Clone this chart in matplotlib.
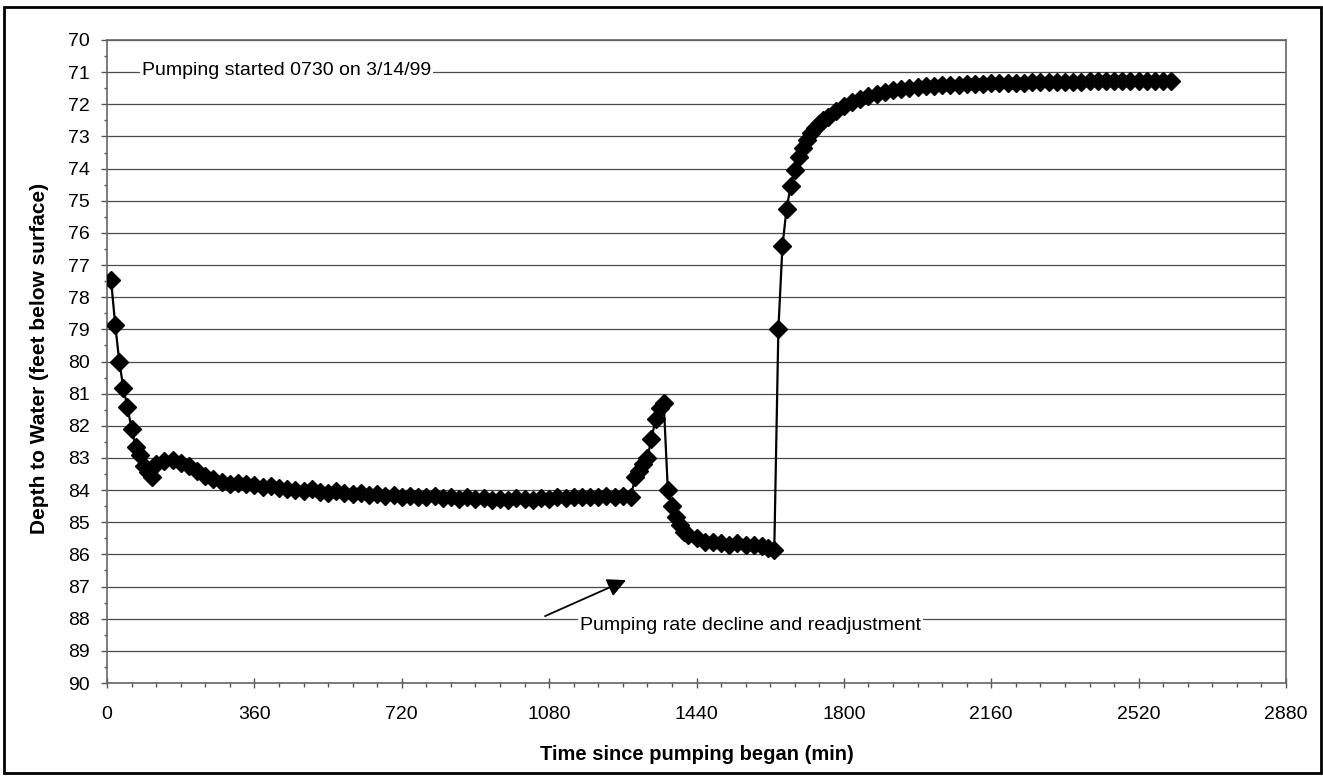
import matplotlib
matplotlib.use("Agg")
import matplotlib.pyplot as plt
from matplotlib.patches import Rectangle
from matplotlib.ticker import MultipleLocator

plt.rcParams['font.family'] = ['Liberation Sans', 'DejaVu Sans']

# ---- data (minutes since pumping began, depth to water in feet) ----
drawdown_t = [10, 20, 30, 40, 50, 60, 70, 80, 90, 100, 110]
drawdown_d = [77.48, 78.85, 80.0, 80.83, 81.42, 82.1, 82.65, 82.9, 83.26, 83.45, 83.6]

steady_t = [120, 140, 160, 180, 200, 220, 240, 260, 280, 300, 320, 340, 360, 380,
            400, 420, 440, 460, 480, 500, 520, 540, 560, 580, 600, 620, 640, 660,
            680, 700, 720, 740, 760, 780, 800, 820, 840, 860, 880, 900, 920, 940,
            960, 980, 1000, 1020, 1040, 1060, 1080, 1100, 1120, 1140, 1160, 1180,
            1200, 1220, 1240, 1260, 1280]
steady_d = [83.2, 83.1, 83.05, 83.15, 83.25, 83.4, 83.55, 83.65, 83.75, 83.8, 83.78,
            83.82, 83.85, 83.9, 83.88, 83.95, 83.97, 84.0, 84.02, 83.98, 84.05, 84.08,
            84.03, 84.1, 84.12, 84.08, 84.15, 84.12, 84.18, 84.15, 84.2, 84.17, 84.22,
            84.2, 84.18, 84.25, 84.2, 84.27, 84.22, 84.28, 84.25, 84.3, 84.27, 84.3,
            84.25, 84.28, 84.3, 84.25, 84.27, 84.22, 84.25, 84.2, 84.23, 84.2, 84.22,
            84.18, 84.2, 84.17, 84.2]

adjust_t = [1290, 1300, 1310, 1320, 1330, 1340, 1350, 1360, 1370, 1380, 1390, 1400,
            1410, 1420, 1440, 1460, 1480, 1500, 1520, 1540, 1560, 1580, 1600, 1615, 1630]
adjust_d = [83.6, 83.4, 83.2, 83.0, 82.4, 81.8, 81.45, 81.3, 84.0, 84.5, 84.85, 85.1,
            85.3, 85.4, 85.5, 85.6, 85.6, 85.65, 85.7, 85.65, 85.7, 85.7, 85.75, 85.8, 85.85]

recovery_t = [1640, 1650, 1660, 1670, 1680, 1690, 1700, 1710, 1720, 1730, 1740, 1750,
              1760, 1780, 1800, 1820, 1840, 1860, 1880, 1900, 1920, 1940, 1960, 1980,
              2000, 2020, 2040, 2060, 2080, 2100, 2120, 2140, 2160, 2180, 2200, 2220,
              2240, 2260, 2280, 2300, 2320, 2340, 2360, 2380, 2400, 2420, 2440, 2460,
              2480, 2500, 2520, 2540, 2560, 2580, 2600]
recovery_d = [79.0, 76.4, 75.25, 74.55, 74.05, 73.65, 73.35, 73.1, 72.9, 72.75, 72.6,
              72.5, 72.4, 72.22, 72.05, 71.93, 71.83, 71.74, 71.67, 71.61, 71.56, 71.52,
              71.49, 71.46, 71.44, 71.42, 71.41, 71.4, 71.39, 71.38, 71.37, 71.36, 71.35,
              71.34, 71.34, 71.33, 71.33, 71.32, 71.32, 71.31, 71.31, 71.3, 71.3, 71.3,
              71.29, 71.29, 71.29, 71.28, 71.28, 71.28, 71.28, 71.27, 71.27, 71.27, 71.27]

x_ticks = [0, 360, 720, 1080, 1440, 1800, 2160, 2520, 2880]
y_ticks = list(range(70, 91))

t_all = drawdown_t + steady_t + adjust_t + recovery_t
d_all = drawdown_d + steady_d + adjust_d + recovery_d

# ---- figure ----
W, H = 1323, 778
fig = plt.figure(figsize=(W / 100, H / 100), dpi=100)
L, R, T, B = 107, 1286, 40, 683
ax = fig.add_axes([L / W, 1 - B / H, (R - L) / W, (B - T) / H])

ax.plot(t_all, d_all, color='black', lw=1.6, marker='D', ms=9,
        markerfacecolor='black', markeredgecolor='black', zorder=3)

ax.set_xlim(0, 2880)
ax.set_ylim(90, 70)
ax.set_xticks(x_ticks)
ax.set_xticklabels([str(v) for v in x_ticks])
ax.set_yticks(y_ticks)
ax.set_yticklabels([str(v) for v in y_ticks])
ax.xaxis.set_minor_locator(MultipleLocator(60))
ax.yaxis.set_minor_locator(MultipleLocator(0.5))

ax.grid(axis='y', which='major', color='#4a4a4a', lw=0.9, zorder=0)
for s in ax.spines.values():
    s.set_color('#666666')
    s.set_linewidth(1.2)

ax.tick_params(axis='y', which='major', direction='out', length=4.3, width=1,
               color='#555555', pad=8, labelsize=14)
ax.tick_params(axis='y', which='minor', direction='out', length=2.5, width=1,
               color='#555555')
ax.tick_params(axis='x', which='major', direction='inout', length=7, width=1,
               color='#555555', pad=13, labelsize=14)
ax.tick_params(axis='x', which='minor', direction='out', length=3, width=1,
               color='#555555')

# annotations
ax.text(85, 71.1, 'Pumping started 0730 on 3/14/99', fontsize=14, ha='left',
        va='baseline', zorder=4,
        bbox=dict(facecolor='white', edgecolor='none', pad=1.5))
ax.text(1155, 88.2, 'Pumping rate decline and readjustment', fontsize=14,
        ha='left', va='center', zorder=4,
        bbox=dict(facecolor='white', edgecolor='none', pad=1.5))
ax.annotate('', xy=(1268, 86.8), xytext=(1070, 87.92),
            arrowprops=dict(arrowstyle='-|>', color='black', lw=1.3,
                            mutation_scale=28, shrinkA=0, shrinkB=0), zorder=4)

# axis titles
fig.text((L + R) / 2 / W, 1 - 755 / H, 'Time since pumping began (min)',
         fontsize=14.5, fontweight='bold', ha='center', va='center')
fig.text(40 / W, 1 - 358 / H, 'Depth to Water (feet below surface)',
         fontsize=15, fontweight='bold', ha='center', va='center', rotation=90)

# outer frame
fig.patches.append(Rectangle((4 / W, 1 - 773 / H), (1321 - 4) / W, (773 - 7) / H,
                             transform=fig.transFigure, fill=False,
                             edgecolor='black', lw=2))

fig.savefig('out.png', dpi=100)
